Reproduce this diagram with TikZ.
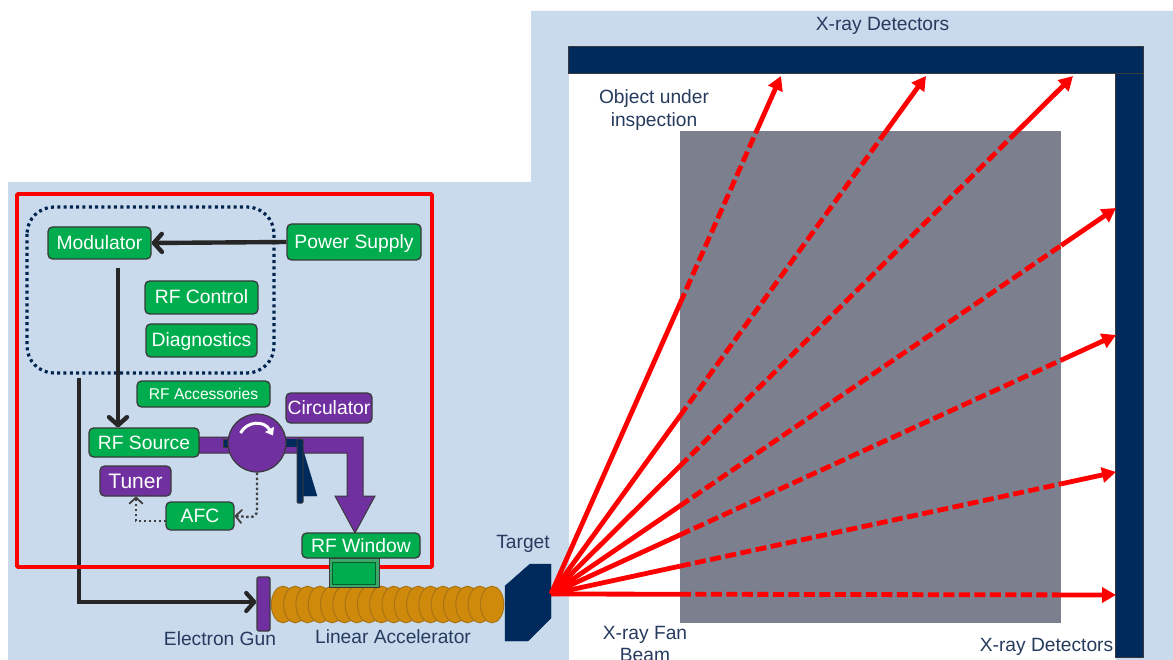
\documentclass[tikz,border=0pt]{standalone}
\usepackage{fontspec}
\setmainfont{Liberation Sans}
\usetikzlibrary{arrows.meta,calc}
\definecolor{bgblue}{HTML}{C9DAED}
\definecolor{boxgreen}{HTML}{00AD4E}
\definecolor{boxpurple}{HTML}{7030A0}
\definecolor{navyblue}{HTML}{002A5C}
\definecolor{edgegrey}{HTML}{3A3A3A}
\definecolor{objgrey}{HTML}{7C7F8E}
\definecolor{labelblue}{HTML}{263B5E}
\definecolor{cavity}{HTML}{D08A0B}
\definecolor{cavityedge}{HTML}{A87414}
\definecolor{rayred}{HTML}{FF0000}
\definecolor{stubedge}{HTML}{3FA76A}
\newcommand{\fsz}[1]{\fontsize{#1}{#1}\selectfont}
\tikzset{
 x=1pt,y=-1pt,
 box/.style={draw=edgegrey,line width=1.3pt,rounded corners=4.5pt,text=white,inner sep=0pt,align=center,font=\fsz{19.3},text height=13pt,text depth=0pt},
 greenbox/.style={box,fill=boxgreen},
 purplebox/.style={box,fill=boxpurple},
 lbl/.style={text=labelblue,inner sep=0pt,align=center,font=\fsz{19.2},text height=13pt,text depth=0pt},
 heavyarrow/.style={draw=black!85,line width=4.4pt,-{Straight Barb[length=8pt,width=18pt,round]}},
 thinline/.style={draw=black!85,line width=4.2pt},
 dotarrow/.style={draw=black!75,line width=2.4pt,dash pattern=on 2.4pt off 2.6pt,-{Straight Barb[length=6pt,width=13pt,round,line width=1.8pt]}},
 ray/.style={draw=rayred,line width=4.8pt},
 raydash/.style={ray,dash pattern=on 11pt off 4.5pt},
 raytip/.style={ray,-{Triangle[length=14pt,width=15pt]}},
 detector/.style={fill=navyblue,draw=edgegrey,line width=1pt},
}
\begin{document}
\begin{tikzpicture}
\useasboundingbox (0,0) rectangle (1173,660);
% backgrounds
\fill[bgblue] (8,182) -- (531,182) -- (531,11) -- (1173,11) -- (1173,660) -- (8,660) -- cycle;
\fill[white] (569,74) rectangle (1116,660);
\fill[objgrey] (680,131) rectangle (1061,623);
\draw[detector] (1115,74) rectangle (1143,657);
\draw[detector] (568,46.5) rectangle (1143,74);

% target and fan
\draw[fill=navyblue,draw=navyblue] (505,586) -- (530,564) -- (551,564) -- (551,618) -- (528,641) -- (505,641) -- cycle;
\coordinate (focus) at (551,594);
\foreach \tx/\ty/\fa/\fb in {781/76/.561/.894, 926/76/.344/.894, 1073/76/.247/.894,
   1116/208/.228/.903, 1116/335/.228/.903, 1116/472/.228/.903, 1116/595/.228/.903}{
  \coordinate (tip) at (\tx,\ty);
  \draw[ray] (focus) -- ($(focus)!\fa!(tip)$);
  \draw[raydash] ($(focus)!\fa!(tip)$) -- ($(focus)!\fb!(tip)$);
  \draw[raytip] ($(focus)!\fb!(tip)$) -- (tip);
}

% cavities
\foreach \i in {0,...,17}{
  \draw[fill=cavity,draw=cavityedge,line width=1pt] ({283+12.3*\i},604.5) ellipse [x radius=11.7,y radius=18.3];
}

% gun
\node[box,fill=boxpurple,minimum width=13pt,minimum height=54pt,rounded corners=2pt] (gun) at (263.5,604) {};

% nodes
\node[greenbox,minimum width=103pt,minimum height=32pt] (mod) at (99.5,243) {Modulator};
\node[greenbox,minimum width=134pt,minimum height=36pt] (pow) at (354,242) {Power Supply};
\node[greenbox,minimum width=113pt,minimum height=33pt] (ctrl) at (201.5,297.5) {RF Control};
\node[greenbox,minimum width=111pt,minimum height=33pt] (diag) at (201.5,340.5) {Diagnostics};
\node[greenbox,minimum width=133pt,minimum height=26pt,font=\fsz{15.6},text height=11pt] (acc) at (203.5,394) {RF Accessories};

% control enclosure
\draw[draw=navyblue!85!black,line width=3.2pt,dash pattern=on 3pt off 3.3pt,rounded corners=27pt] (27,207) rectangle (274,373);

% waveguide
\draw[fill=boxpurple,draw=edgegrey,line width=1pt] (199,437) -- (363,437) -- (363,496) -- (375,496) -- (355,533) -- (335,496) -- (347,496) -- (347,453) -- (199,453) -- cycle;
\fill[navyblue,draw=edgegrey,line width=.6pt] (223,439) rectangle (232,447);
\fill[navyblue] (283,439) rectangle (297,447);
\draw[fill=navyblue,draw=navyblue] (303,450) -- (317,496) -- (303,496) -- cycle;
\draw[fill=navyblue,draw=edgegrey,line width=1pt,rounded corners=1pt] (297,439) rectangle (303,503);

% circulator body
\node[circle,fill=boxpurple,draw=edgegrey,line width=1.2pt,minimum size=58pt,inner sep=0pt] (circ) at (257,443) {};
\draw[draw=white,line width=3pt,-{Triangle[length=7pt,width=10pt]}] (240.5,433) .. controls (247,421) and (264,420) .. (273,435.5);

\node[purplebox,minimum width=86pt,minimum height=30pt] (cirl) at (329,408) {Circulator};
\node[greenbox,minimum width=110pt,minimum height=29pt] (src) at (144,442.5) {RF Source};
\node[purplebox,minimum width=71pt,minimum height=30pt,font=\fsz{21},text height=14pt] (tun) at (135.5,481) {Tuner};
\node[greenbox,minimum width=68pt,minimum height=28pt] (afc) at (200,516) {AFC};

% connectors
\coordinate (modout) at (118,268);
\coordinate (ctlout) at (79,378);
\coordinate (afcturn) at (136,521);
\coordinate (afcout) at (166,521);
\draw[thinline,-{Straight Barb[length=8pt,width=18pt,round]}] (ctlout) -- (79,602) -- (gun.west |- 0,602);
\draw[heavyarrow] (pow.west) -- (mod.east);
\draw[heavyarrow] (modout) -- (modout |- src.north);
\draw[dotarrow] (circ.south) -- (257,510) .. controls (257,515) and (254,517) .. (250,517) -- (afc.east);
\draw[dotarrow] (afcout) -- (afcturn) -- (afcturn |- tun.south);

% red frame
\draw[draw=rayred,line width=3.8pt,rounded corners=1pt] (17,194) rectangle (432,567);

% feed stub
\draw[fill=stubedge,draw=edgegrey,line width=1pt] (329,558) rectangle (379,587);
\draw[fill=boxgreen,draw=black!45!boxgreen,line width=1pt] (332.5,562) rectangle (375.5,584);
\node[greenbox,minimum width=118pt,minimum height=25pt] (win) at (361,545.5) {RF Window};

% labels
\node[lbl] (ldet) at (882.5,24.5) {X-ray Detectors};
\node[lbl] (lobj1) at (654,97) {Object under};
\node[lbl] (lobj2) at (654,120) {inspection};
\node[lbl] (ltar) at (523,541.5) {Target};
\node[lbl] (lgun) at (220,639) {Electron Gun};
\node[lbl] (llin) at (393,637) {Linear Accelerator};
\node[lbl] (lfan1) at (645,633) {X-ray Fan};
\node[lbl] (lfan2) at (645,655) {Beam};
\node[lbl] (ldet2) at (1046.5,645) {X-ray Detectors};
\end{tikzpicture}
\end{document}
